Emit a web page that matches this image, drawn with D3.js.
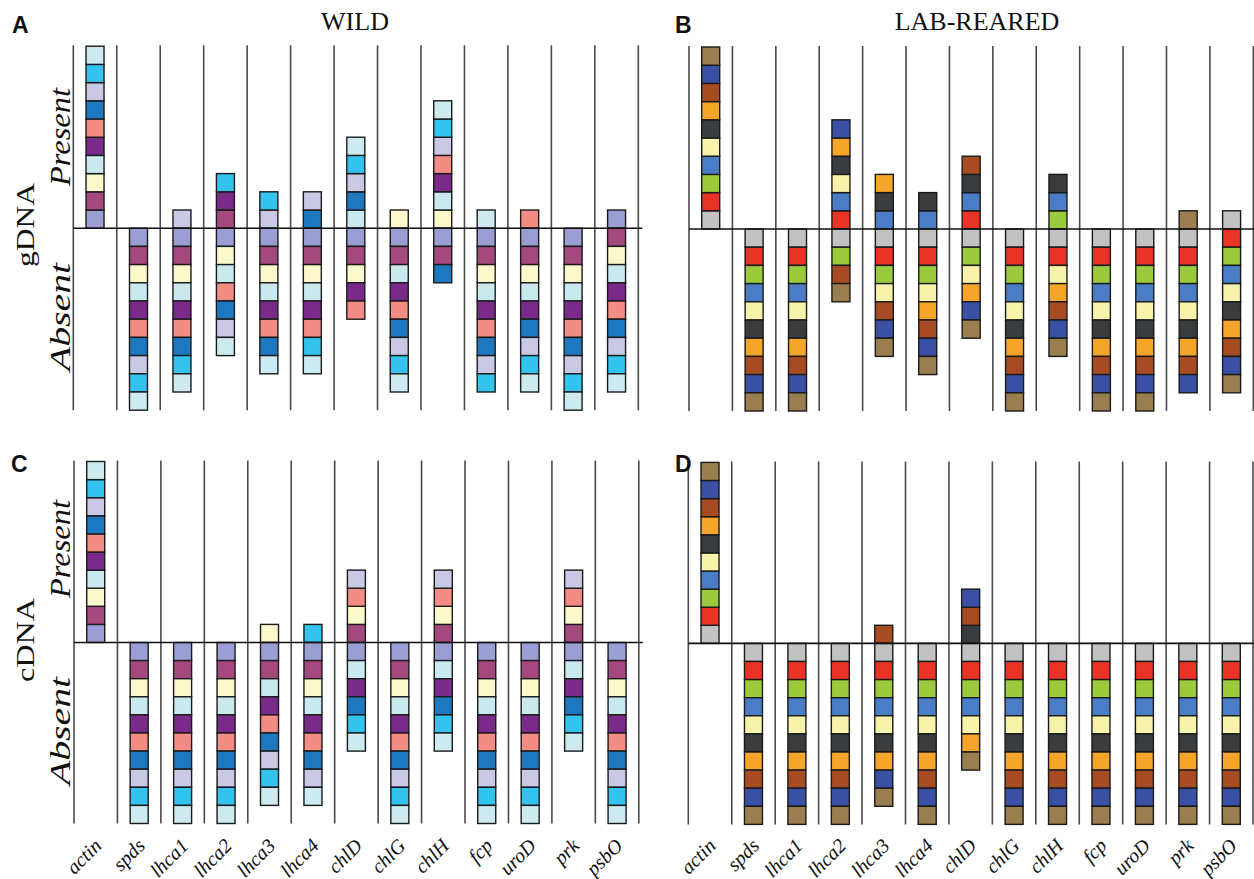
<!DOCTYPE html>
<html>
<head>
<meta charset="utf-8">
<script src="https://cdn.jsdelivr.net/npm/d3@7"></script>
<style>
  html, body { margin: 0; padding: 0; background: #fff; }
  svg { display: block; }
</style>
</head>
<body>
<svg id="chart" width="1254" height="879"></svg>
<script>
// ---------------- data ----------------
const genes = ["actin","spds","lhca1","lhca2","lhca3","lhca4","chlD","chlG","chlH","fcp","uroD","prk","psbO"];

// individuals (1..10) and their colours
const wildIndividuals = [1,2,3,4,5,6,7,8,9,10];
const wildColors = ["#9a9ed2","#a3497d","#fbf9cc","#c9e9ef","#7a2a88","#f38c85","#1e78bf","#c9c9e6","#33c3ee","#cdeaf0"];
const labIndividuals = [1,2,3,4,5,6,7,8,9,10];
const labColors = ["#c2c2c2","#ea3327","#9bcb3c","#4a7dc5","#f7f3aa","#393c3f","#f6a52b","#a64b22","#3a50a5","#9a7e4f"];

// individuals in which each gene is PRESENT (rest are absent)
const gDNAWildPresent = [[1,2,3,4,5,6,7,8,9,10],[],[8],[2,5,9],[8,9],[7,8],[4,7,8,9,10],[3],[3,4,5,6,8,9,10],[10],[6],[],[1]];
const gDNALabPresent  = [[1,2,3,4,5,6,7,8,9,10],[],[],[2,4,5,6,7,9],[4,6,7],[4,6],[2,4,6,8],[],[3,4,6],[],[],[10],[1]];
const cDNAWildPresent = [[1,2,3,4,5,6,7,8,9,10],[],[],[],[3],[9],[2,3,6,8],[],[2,3,6,8],[],[],[2,3,6,8],[]];
const cDNALabPresent  = [[1,2,3,4,5,6,7,8,9,10],[],[],[],[8],[],[6,8,9],[],[],[],[],[],[]];

const panelLetters = ["A","B","C","D"];
const groupTitles = ["WILD","LAB-REARED"];
const rowLabels = ["gDNA","cDNA"];

// ---------------- drawing ----------------
const svg = d3.select("#chart");

const panels = [
  {letter:panelLetters[0], present:gDNAWildPresent, inds:wildIndividuals, colors:wildColors, x0:73.3, x1:638.3, zero:228.2, unit:18.2, lx:12, ly:33},
  {letter:panelLetters[1], present:gDNALabPresent,  inds:labIndividuals,  colors:labColors,  x0:689,  x1:1253.3, zero:229, unit:18.2, lx:675, ly:33},
  {letter:panelLetters[2], present:cDNAWildPresent, inds:wildIndividuals, colors:wildColors, x0:74,   x1:638.8, zero:642.5, unit:18.1, lx:11, ly:472},
  {letter:panelLetters[3], present:cDNALabPresent,  inds:labIndividuals,  colors:labColors,  x0:688.3,x1:1253, zero:643.4, unit:18.1, lx:675, ly:472}
];

const boxW = 18;

panels.forEach((p, pi) => {
  const g = svg.append("g");
  const x = d3.scaleBand().domain(genes).range([p.x0, p.x1]).paddingInner(0).paddingOuter(0);
  const y = d3.scaleLinear().domain([-10, 10]).range([p.zero + 10*p.unit, p.zero - 10*p.unit]);
  const color = d3.scaleOrdinal().domain(p.inds).range(p.colors);

  // vertical separators
  const edges = genes.map(d => x(d)).concat([x(genes[genes.length-1]) + x.bandwidth()]);
  g.selectAll("line.sep").data(edges).join("line")
    .attr("x1", d => d).attr("x2", d => d)
    .attr("y1", y(10) - 1).attr("y2", y(-10))
    .attr("stroke", "#4a4a50").attr("stroke-width", 1.6);

  // cells
  const cells = [];
  genes.forEach((gene, gi) => {
    const pres = p.present[gi];
    const abs = p.inds.filter(i => !pres.includes(i));
    pres.forEach((ind, k) => cells.push({gene, ind, lo: k, hi: k + 1}));
    abs.forEach((ind, k) => cells.push({gene, ind, lo: -(k + 1), hi: -k}));
  });
  g.selectAll("rect.cell").data(cells).join("rect")
    .attr("x", d => x(d.gene) + x.bandwidth()/2 - boxW/2)
    .attr("y", d => y(d.hi))
    .attr("width", boxW)
    .attr("height", d => y(d.lo) - y(d.hi))
    .attr("fill", d => color(d.ind))
    .attr("stroke", "#1a1a1a").attr("stroke-width", 1.4);

  // zero line
  g.append("line")
    .attr("x1", p.x0).attr("x2", Math.min(p.x1 + 4, 1254))
    .attr("y1", y(0)).attr("y2", y(0))
    .attr("stroke", "#111").attr("stroke-width", 1.6);

  // gene labels (bottom rows only)
  if (pi >= 2) {
    g.selectAll("text.gene").data(genes).join("text")
      .attr("transform", d => `translate(${x(d) + x.bandwidth()/2 + 7},${847}) rotate(-45)`)
      .attr("text-anchor", "end")
      .attr("font-family", "'Liberation Serif', 'Times New Roman', serif")
      .attr("font-style", "italic")
      .attr("font-size", 20)
      .attr("fill", "#111")
      .text(d => d);
  }

  // panel letter
  svg.append("text")
    .attr("x", p.lx).attr("y", p.ly)
    .attr("font-family", "'Liberation Sans', Arial, sans-serif")
    .attr("font-weight", "bold")
    .attr("font-size", 23)
    .attr("fill", "#111")
    .text(p.letter);
});

// group titles
svg.append("text").attr("x", 355).attr("y", 30).attr("text-anchor", "middle")
  .attr("font-family", "'Liberation Serif', 'Times New Roman', serif").attr("font-size", 26).attr("fill", "#111")
  .text(groupTitles[0]);
svg.append("text").attr("x", 977).attr("y", 30).attr("text-anchor", "middle")
  .attr("font-family", "'Liberation Serif', 'Times New Roman', serif").attr("font-size", 26).attr("fill", "#111")
  .text(groupTitles[1]);

// row labels
const rowDefs = [
  {label: rowLabels[0], cy: 225, pres: 137, abs: 317},
  {label: rowLabels[1], cy: 640, pres: 549, abs: 731}
];
rowDefs.forEach(r => {
  svg.append("text")
    .attr("transform", `translate(34,${r.cy}) rotate(-90)`)
    .attr("text-anchor", "middle")
    .attr("font-family", "'Liberation Serif', 'Times New Roman', serif")
    .attr("font-size", 26).attr("fill", "#111")
    .attr("textLength", 84).attr("lengthAdjust", "spacingAndGlyphs")
    .text(r.label);
  svg.append("text")
    .attr("transform", `translate(70,${r.pres}) rotate(-90)`)
    .attr("text-anchor", "middle")
    .attr("font-family", "'Liberation Serif', 'Times New Roman', serif")
    .attr("font-style", "italic")
    .attr("font-size", 30).attr("fill", "#111")
    .attr("textLength", 98).attr("lengthAdjust", "spacingAndGlyphs")
    .text("Present");
  svg.append("text")
    .attr("transform", `translate(70,${r.abs}) rotate(-90)`)
    .attr("text-anchor", "middle")
    .attr("font-family", "'Liberation Serif', 'Times New Roman', serif")
    .attr("font-style", "italic")
    .attr("font-size", 30).attr("fill", "#111")
    .attr("textLength", 108).attr("lengthAdjust", "spacingAndGlyphs")
    .text("Absent");
});
</script>
</body>
</html>
